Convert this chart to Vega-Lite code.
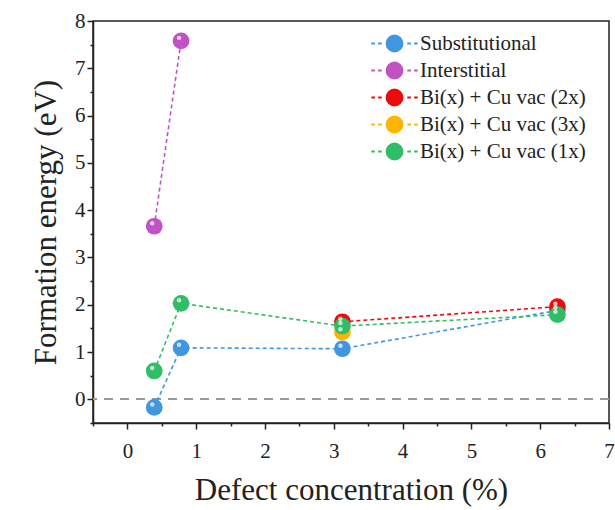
{
  "$schema": "https://vega.github.io/schema/vega-lite/v6.json",
  "autosize": "none",
  "width": 516,
  "height": 402,
  "padding": {"left": 93, "top": 21, "right": 6, "bottom": 87},
  "background": "white",
  "config": {
    "view": {"stroke": "#222", "strokeWidth": 1.5},
    "font": "Liberation Serif",
    "axis": {
      "domainColor": "#222", "domainWidth": 1.5, "tickColor": "#222", "tickWidth": 1.5,
      "labelFont": "Liberation Serif", "labelFontSize": 21, "labelColor": "#222",
      "titleFont": "Liberation Serif", "titleFontSize": 31, "titleFontWeight": "normal", "titleColor": "#222",
      "grid": false
    }
  },
  "data": {
    "values": [
      {"series": "Substitutional", "conc": 0.39, "energy": -0.17},
      {"series": "Substitutional", "conc": 0.78, "energy": 1.09},
      {"series": "Substitutional", "conc": 3.125, "energy": 1.07},
      {"series": "Substitutional", "conc": 6.25, "energy": 1.88},
      {"series": "Interstitial", "conc": 0.39, "energy": 3.66},
      {"series": "Interstitial", "conc": 0.78, "energy": 7.58},
      {"series": "Bi(x) + Cu vac (2x)", "conc": 3.125, "energy": 1.64},
      {"series": "Bi(x) + Cu vac (2x)", "conc": 6.25, "energy": 1.96},
      {"series": "Bi(x) + Cu vac (3x)", "conc": 3.125, "energy": 1.42},
      {"series": "Bi(x) + Cu vac (1x)", "conc": 0.39, "energy": 0.6},
      {"series": "Bi(x) + Cu vac (1x)", "conc": 0.78, "energy": 2.03},
      {"series": "Bi(x) + Cu vac (1x)", "conc": 3.125, "energy": 1.55},
      {"series": "Bi(x) + Cu vac (1x)", "conc": 6.25, "energy": 1.79}
    ]
  },
  "encoding": {
    "x": {
      "field": "conc", "type": "quantitative",
      "scale": {"domain": [-0.5, 7], "nice": false, "zero": false},
      "axis": {
        "title": "Defect concentration (%)",
        "values": [-0.5, 0, 0.5, 1, 1.5, 2, 2.5, 3, 3.5, 4, 4.5, 5, 5.5, 6, 6.5, 7],
        "labelExpr": "datum.value % 1 === 0 ? format(datum.value, 'd') : ''",
        "tickSize": {"condition": {"test": "datum.value % 1 === 0", "value": 6}, "value": 3},
        "labelFont": "Liberation Serif", "labelFontSize": 21,
        "labelPadding": 11, "titlePadding": 14, "labelFlush": false
      }
    },
    "y": {
      "field": "energy", "type": "quantitative",
      "scale": {"domain": [-0.5, 8], "nice": false, "zero": false},
      "axis": {
        "title": "Formation energy (eV)",
        "values": [-0.5, 0, 0.5, 1, 1.5, 2, 2.5, 3, 3.5, 4, 4.5, 5, 5.5, 6, 6.5, 7, 7.5, 8],
        "labelExpr": "datum.value % 1 === 0 ? format(datum.value, 'd') : ''",
        "tickSize": {"condition": {"test": "datum.value % 1 === 0", "value": 6}, "value": 3},
        "labelFont": "Liberation Serif", "labelFontSize": 21,
        "labelPadding": 2, "titlePadding": 12, "labelFlush": false
      }
    },
    "color": {
      "field": "series", "type": "nominal",
      "scale": {
        "domain": ["Substitutional", "Interstitial", "Bi(x) + Cu vac (2x)", "Bi(x) + Cu vac (3x)", "Bi(x) + Cu vac (1x)"],
        "range": ["#3f97e0", "#c052c4", "#ee0a0a", "#ffb400", "#2fbd66"]
      },
      "legend": {
        "title": null, "orient": "none", "legendX": 291, "legendY": 12,
        "symbolType": "M-1,0 A1,1 0 1,1 1,0 A1,1 0 1,1 -1,0 Z M-2.9,0 L-2.45,0 M-2.05,0 L-1.6,0 M1.6,0 L2.05,0 M2.45,0 L2.9,0",
        "symbolSize": 256, "symbolStrokeWidth": 1.8, "symbolFillColor": null,
        "symbolOffset": 0, "labelOffset": 15, "labelLimit": 300,
        "labelFont": "Liberation Serif", "labelFontSize": 21, "labelColor": "#222",
        "rowPadding": 2, "symbolOpacity": 1
      }
    }
  },
  "layer": [
    {
      "mark": {"type": "rule", "color": "#999", "strokeDash": [9, 7], "strokeWidth": 1.5},
      "encoding": {"y": {"datum": 0}, "x": null, "color": null}
    },
    {
      "mark": {"type": "line", "strokeDash": [4, 3], "strokeWidth": 1.6}
    },
    {
      "mark": {"type": "point", "shape": "circle", "filled": true, "size": 280, "opacity": 1}
    },
    {
      "mark": {"type": "point", "shape": "circle", "filled": true, "size": 20, "opacity": 0.7, "color": "white", "xOffset": -2, "yOffset": -3},
      "encoding": {"color": null}
    }
  ]
}
